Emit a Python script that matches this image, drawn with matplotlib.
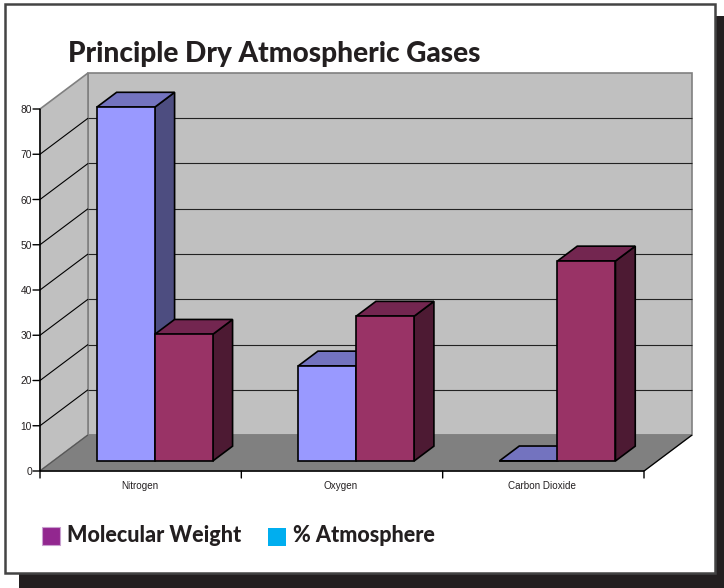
import matplotlib
matplotlib.use('Agg')
import matplotlib.pyplot as plt
from matplotlib.patches import Polygon, Rectangle

W, H = 724, 588

categories = ['Nitrogen', 'Oxygen', 'Carbon Dioxide']
pct_atmosphere = [78.2, 21, 0.03]
molecular_weight = [28, 32, 44.2]
y_ticks = [0, 10, 20, 30, 40, 50, 60, 70, 80]

LINE = '#000000'
TEXT = '#231f20'


def px_axes(fig):
    # overlay in pixel coords, for the frame and the titles
    ax = fig.add_axes([0, 0, 1, 1], zorder=0)
    ax.set_xlim(0, W)
    ax.set_ylim(H, 0)
    ax.axis('off')
    return ax


fig = plt.figure(figsize=(W / 100, H / 100), dpi=100, facecolor='white')
bg = px_axes(fig)
bg.add_patch(Rectangle((19, 16), 705, 572, fc=TEXT, ec='none'))
bg.add_patch(Rectangle((5, 4), 710, 569, fc='white', ec='#444444', lw=1.8))

# plot axes: front floor edge runs from x=40 to x=644, y=471 to y=109
ax = fig.add_axes([40 / W, 1 - 471 / H, 604 / W, 362 / H], zorder=1)
ax.set_xlim(0, 3)
ax.set_ylim(0, 80)
ax.axis('off')
ax.patch.set_alpha(0)

# depth of the box in data units (48 px across, 36 px up)
DX = 48 / (604 / 3)
DY = 36 / (362 / 80)


def proj(x, y, d):
    return x + d * DX, y + d * DY


def quad(pts, fc, ec=LINE, lw=1.0, z=1):
    ax.add_patch(Polygon([proj(*p) for p in pts], closed=True, fc=fc, ec=ec, lw=lw,
                         joinstyle='miter', clip_on=False, zorder=z))


def seg(a, b, color=LINE, lw=1.0, z=2):
    xa, ya = proj(*a)
    xb, yb = proj(*b)
    ax.plot([xa, xb], [ya, yb], color=color, lw=lw, clip_on=False, zorder=z,
            solid_capstyle='butt')


def bar3d(x0, x1, h, front, top, side, z):
    d0, d1 = 0.278, 0.69
    quad([(x1, 0, d0), (x1, 0, d1), (x1, h, d1), (x1, h, d0)], side, lw=1.2, z=z)
    quad([(x0, h, d0), (x1, h, d0), (x1, h, d1), (x0, h, d1)], top, lw=1.2, z=z)
    quad([(x0, 0, d0), (x1, 0, d0), (x1, h, d0), (x0, h, d0)], front, lw=1.2, z=z)


# walls and floor
quad([(0, 0, 1), (3, 0, 1), (3, 80, 1), (0, 80, 1)], '#c0c0c0', ec='#808080', lw=1.2)
quad([(0, 0, 0), (0, 0, 1), (0, 80, 1), (0, 80, 0)], '#c0c0c0', ec='#808080', lw=1.2)
quad([(0, 0, 0), (3, 0, 0), (3, 0, 1), (0, 0, 1)], '#808080', ec='#808080', lw=1.0)

for t in y_ticks[1:-1]:
    seg((0, t, 0), (0, t, 1), lw=0.8)
    seg((0, t, 1), (3, t, 1), color='#222222', lw=0.8)
seg((0, 0, 0), (0, 0, 1), color='#555555', lw=0.8)
seg((3, 0, 0), (3, 0, 1), lw=0.9)

# front axes with tick marks
seg((0, 0, 0), (0, 80, 0), lw=1.1, z=6)
seg((0, 0, 0), (3, 0, 0), lw=1.1, z=6)
for t in y_ticks:
    ax.annotate(str(t), (0, t), xytext=(-8, -1), textcoords='offset pixels', ha='right', va='center',
                fontsize=7.4, family='Liberation Sans', color=TEXT, annotation_clip=False)
    ax.annotate('', (0, t), xytext=(-7, 0), textcoords='offset pixels', annotation_clip=False,
                arrowprops=dict(arrowstyle='-', color=LINE, lw=1.0, shrinkA=0, shrinkB=0))
for i in range(len(categories) + 1):
    ax.annotate('', (i, 0), xytext=(0, -7), textcoords='offset pixels', annotation_clip=False,
                arrowprops=dict(arrowstyle='-', color=LINE, lw=1.0, shrinkA=0, shrinkB=0))
for i, name in enumerate(categories):
    ax.annotate(name, (i + 0.5, 0), xytext=(-1, -15), textcoords='offset pixels', ha='center', va='center',
                fontsize=7.1, family='Liberation Sans', color=TEXT, annotation_clip=False)

# bars, back-to-front order left to right
width = 0.288
shift = 0.004
for i in range(len(categories)):
    c = i + 0.5 + shift
    bar3d(c - width, c, pct_atmosphere[i], '#9999ff', '#7373bf', '#4d4d80', 3)
    bar3d(c, c + width, molecular_weight[i], '#993366', '#732650', '#4d1a33', 4)

# title and legend
fig.text(68 / W, 1 - 54 / H, 'Principle Dry Atmospheric Gases', fontsize=20.2, family='Lato',
         weight='black', color=TEXT, ha='left', va='center')
fg = fig.add_axes([0, 0, 1, 1], zorder=2)
fg.set_xlim(0, W)
fg.set_ylim(H, 0)
fg.axis('off')
fg.patch.set_alpha(0)
fg.add_patch(Rectangle((42, 527), 18, 18, fc='#92278f', ec='#c9a0d0', lw=0.8))
fg.add_patch(Rectangle((268, 528), 18, 18, fc='#00aeef', ec='none'))
fg.text(67, 536, 'Molecular Weight', fontsize=15.5, family='Lato', weight='black', color=TEXT, va='center')
fg.text(293, 536, '% Atmosphere', fontsize=15.5, family='Lato', weight='black', color=TEXT, va='center')

fig.savefig('out.png', dpi=100)
